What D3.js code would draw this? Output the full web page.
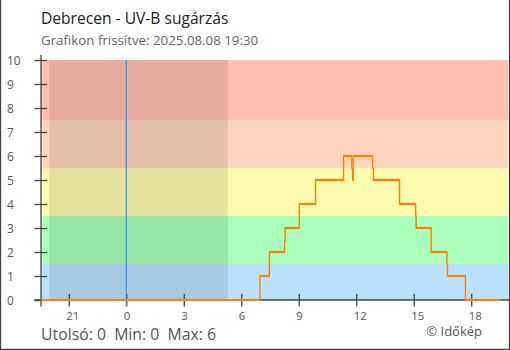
<!DOCTYPE html>
<html><head><meta charset="utf-8">
<script src="https://cdn.jsdelivr.net/npm/d3@7"></script>
<style>
html,body{margin:0;padding:0;background:#fff;}
svg{display:block;font-family:"Open Sans",sans-serif;}
</style></head>
<body>
<svg id="c" width="510" height="350"></svg>
<script>
// ---- data ----
const titleText = "Debrecen - UV-B sugárzás";
const subtitleText = "Grafikon frissítve: 2025.08.08 19:30";
// hours relative to midnight of 2025.08.08 (negative = previous evening)
const times    = [-4.45, 6.97, 7.47, 8.26, 8.29, 9.03, 9.88, 11.34, 11.77, 11.81, 11.84, 12.85, 12.90, 14.26, 15.10, 15.13, 15.91, 16.73, 16.76, 17.70, 19.53];
const uvValues = [0,     1,    2,    2.45, 3,    4,    5,    6,     5.5,   5,     6,     5.5,   5,     4,     3.5,   3,     2,     1.5,   1,     0,     0];
const xTickHours = [-3, 0, 3, 6, 9, 12, 15, 18];
const yTicks = [0,1,2,3,4,5,6,7,8,9,10];
const bandLimits = [[0,1.5],[1.5,3.5],[3.5,5.5],[5.5,7.5],[7.5,10]];
const bandColors = ["#b9e1fd","#aaffbb","#fffcb0","#ffd6bb","#ffbfb0"];
const nightSpan = [-4.03, 5.30];
const lastValue = 0, minValue = 0, maxValue = 6;

// ---- layout ----
const svg = d3.select("#c");
const x = d3.scaleLinear().domain([-4.45, 19.92]).range([41, 508]);
const y = d3.scaleLinear().domain([0, 10]).range([300, 60]);

// bands
svg.append("g").selectAll("rect").data(bandLimits).join("rect")
  .attr("x", x.range()[0]).attr("width", x.range()[1]-x.range()[0])
  .attr("y", d => y(d[1])).attr("height", d => y(d[0]) - y(d[1]))
  .attr("fill", (d,i) => bandColors[i]);

// night
svg.append("rect")
  .attr("x", x(nightSpan[0])).attr("width", x(nightSpan[1]) - x(nightSpan[0]))
  .attr("y", y(10)).attr("height", y(0) - y(10))
  .attr("fill", "rgba(0,0,0,0.1)");

// x axis
const xa = svg.append("g").attr("transform", "translate(0,300)")
  .call(d3.axisBottom(x).tickValues(xTickHours).tickSizeOuter(0)
    .tickFormat(d => d < 0 ? d + 24 : d));
xa.select(".domain").remove();
xa.append("line").attr("x1", 34).attr("x2", 509).attr("y1", 0).attr("y2", 0)
  .attr("stroke", "#444").attr("stroke-width", 1.3);
xa.selectAll(".tick line").attr("y1", -6).attr("y2", 6.5).attr("stroke", "#444").attr("stroke-width", 1.3);
xa.selectAll(".tick text").attr("text-anchor", "start").attr("x", -3).attr("y", 0).attr("dy", 20)
  .attr("fill", "#555").attr("font-size", 11.5).attr("font-family", "Open Sans");

// midnight line
svg.append("line").attr("x1", x(0)).attr("x2", x(0)).attr("y1", y(10)).attr("y2", 306.5)
  .attr("stroke", "#2196f3").attr("stroke-width", 1.2);

// y axis
const ya = svg.append("g").attr("transform", "translate(41,0)")
  .call(d3.axisLeft(y).tickValues(yTicks).tickSizeOuter(0));
ya.select(".domain").remove();
ya.append("line").attr("x1", 0).attr("x2", 0).attr("y1", 55).attr("y2", 306.5)
  .attr("stroke", "#444").attr("stroke-width", 1.3);
ya.selectAll(".tick line").attr("x1", -6.5).attr("x2", 6).attr("stroke", "#444").attr("stroke-width", 1.3);
ya.selectAll(".tick text").attr("text-anchor", "start").attr("x", -34).attr("dy", "0.35em")
  .attr("fill", "#555").attr("font-size", 12).attr("font-family", "Open Sans");

// step line: horizontal runs thicker than vertical risers
const pts = times.map((t,i) => [t, uvValues[i]]);
const hSeg = [], vSeg = [];
pts.forEach((p, i) => {
  if (i < pts.length - 1) {
    const n = pts[i+1];
    hSeg.push([x(p[0]), y(p[1]), x(n[0]), y(p[1])]);
    if (n[1] !== p[1]) vSeg.push([x(n[0]), y(p[1]), x(n[0]), y(n[1])]);
  }
});
const lg = svg.append("g").attr("stroke", "#ff8000").attr("stroke-linecap", "square");
lg.selectAll("line.v").data(vSeg).join("line").attr("class", "v")
  .attr("x1", d => d[0]).attr("y1", d => d[1]).attr("x2", d => d[2]).attr("y2", d => d[3])
  .attr("stroke-width", 1.4);
lg.selectAll("line.h").data(hSeg).join("line").attr("class", "h")
  .attr("x1", d => d[0]).attr("y1", d => d[1]).attr("x2", d => d[2]).attr("y2", d => d[3])
  .attr("stroke-width", 2.2).attr("stroke-linecap", "butt");

// texts
svg.append("text").attr("x", 41).attr("y", 24).text(titleText)
  .attr("font-size", 15.6).attr("fill", "#222");
svg.append("text").attr("x", 41).attr("y", 45).text(subtitleText)
  .attr("font-size", 13.3).attr("fill", "#666");
svg.append("text").attr("x", 41).attr("y", 340)
  .text(`Utolsó: ${lastValue}  Min: ${minValue}  Max: ${maxValue}`)
  .attr("xml:space", "preserve").style("white-space", "pre")
  .attr("font-size", 15.8).attr("fill", "#555");
svg.append("text").attr("x", 482).attr("y", 336).attr("text-anchor", "end")
  .text("© Időkép").attr("font-size", 13).attr("fill", "#555");

// frame
svg.append("path").attr("d", "M0.5,0 V349.5 H509.5 V0")
  .attr("fill", "none").attr("stroke", "#444").attr("stroke-width", 1.3);
</script>
</body></html>
